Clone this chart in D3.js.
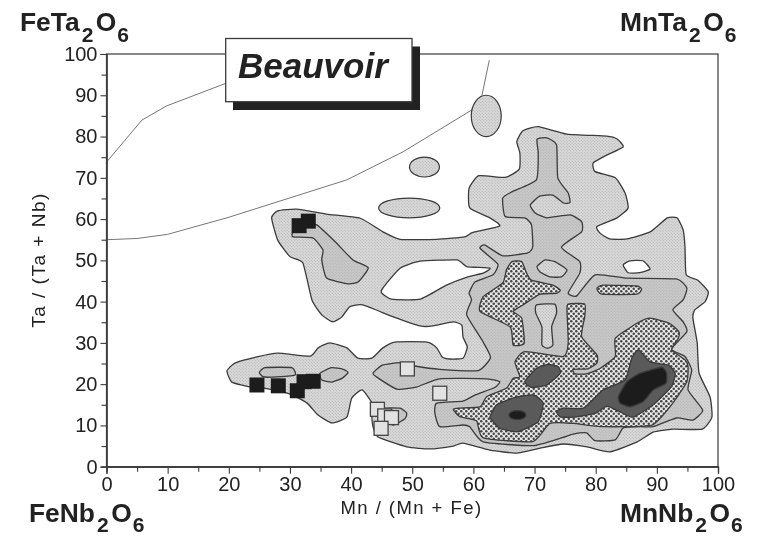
<!DOCTYPE html>
<html><head><meta charset="utf-8">
<script src="https://cdn.jsdelivr.net/npm/d3@7/dist/d3.min.js"></script>
<style>html,body{margin:0;padding:0;background:#fff}svg{display:block}text{font-family:"Liberation Sans",Arial,sans-serif;fill:#222}</style>
</head><body><div id="c"></div>
<script>
const outerContour=[[27,60.3],[28,62],[31.1,62.4],[36,61.2],[41.5,60.2],[45.2,56.9],[48,55.1],[54,55.1],[58.6,55.7],[59.8,56.7],[64.3,58.3],[62.7,60.3],[59.4,62.7],[59.3,67.5],[60.9,70.5],[65.2,70.1],[67.5,72.1],[67.6,76],[67.1,78.8],[68.1,81.4],[70.6,82.4],[75.3,80.6],[81.8,80.1],[83.5,79.4],[84.5,77.5],[81.8,75.5],[79.6,73.6],[79.9,71.5],[83.2,70],[84.8,66.3],[85.3,62.7],[83.5,60.3],[80.2,58.2],[80.7,56.6],[82.3,55.2],[85.1,55.2],[88.9,56.9],[91.7,60.3],[93.3,60.3],[94.3,57.4],[94.6,53.3],[94.8,46.5],[96.7,45.2],[98.4,42.4],[97.9,40],[96.2,38],[95.9,36],[96.6,30],[96.9,22.7],[98.7,16.9],[99,12],[97.4,9.1],[92.6,9.1],[89.4,8.4],[86.8,6],[82.3,3.6],[78.6,4.8],[74.7,5.5],[70.9,4.5],[67.1,3.3],[62.7,4],[58.3,5.7],[56.7,5],[52.9,4.3],[49.1,4.8],[44.4,7.2],[43.6,9.6],[43.4,12],[43.4,15.4],[41.8,18.6],[40.1,16.6],[39.3,12],[36.9,10.6],[34.6,12.5],[32.8,15.4],[30,17.6],[25.6,19.1],[23.5,19.3],[20.5,20.5],[19.7,23.2],[21,25.1],[24.6,26.6],[28,27.5],[33.3,26.8],[34.6,28.8],[36.5,30],[39.3,28.8],[41.1,26.3],[43.4,26.3],[45.2,28.8],[47.2,30.2],[52.4,30.2],[54,28.8],[54.9,26.6],[56.2,26.1],[58.3,26.3],[59,29],[58.3,31.4],[58.1,34.3],[56.7,35.1],[53.4,34.1],[51.3,34.1],[46.9,36.3],[41.9,39.2],[39.8,38.8],[38.5,36.3],[37,35.1],[35.2,36.8],[33.6,40.4],[32.1,49.4],[30,50.9],[28,54.9]];
const holeMiddle=[[45.2,43.3],[48,48.1],[51.3,49.8],[57.3,50.1],[58.9,48.5],[62.7,48.1],[61.6,46.9],[59.1,46],[55.6,44],[51.3,40.6],[46.6,40.6],[45,42.1]];
const holeRight=[[84.5,48.9],[85.6,49.9],[87.7,49.9],[88.9,47.9],[87.2,47],[85.3,47]];
const midContour=[[70.4,79.3],[72,79.7],[73.6,78],[73.8,70],[75.5,66.3],[75.8,64],[74.7,63.9],[73,65.8],[70.9,65.6],[69.3,63.4],[70.1,61.5],[72,60.3],[75.8,61],[77.7,59.4],[77.7,56.9],[74.4,53.2],[77.4,49.7],[77.4,46.9],[75.5,42.1],[76.9,41.4],[79.9,46.5],[85.1,45.7],[93.2,45.5],[94.9,43.3],[94.3,40.4],[92.6,38],[94.3,35.1],[94.9,32.7],[92.4,28.5],[94.6,26.7],[95.7,23.4],[95.1,18.6],[97.5,13.7],[95.9,11.3],[93.2,11.8],[89.4,9.7],[87.2,9.7],[84.5,9.4],[83.2,6.5],[79.9,6.3],[78.5,8.2],[76.3,7.9],[74.4,7],[69.7,5.1],[61.6,6],[59.4,9.7],[58.3,10.1],[54.5,9.7],[53.7,13],[54,15.4],[58.3,15.9],[60.3,17.4],[63.5,19.2],[64.3,20.6],[62.2,21.3],[54.5,21.3],[50.7,19.3],[47.5,18.8],[44.2,21.7],[43.6,22.7],[45.1,24.6],[48,25.2],[50.4,24.4],[54.5,23.6],[60.8,23.3],[62.8,26.5],[61.4,30.7],[58.9,36.8],[59.7,40.4],[59.3,42.1],[60.3,44.8],[63.2,46.5],[64,49.1],[61.1,52.9],[61.9,53.7],[64.8,51.1],[68.9,51.8],[69.7,53.3],[69.5,58.6],[68.4,60.3],[65.2,60.6],[64.8,65.1],[66.3,66.6],[70.3,69.5],[70.6,76]];
const midIslands=[
 [[25,22.8],[25.9,24],[30.3,24],[30.8,22.2],[27,21.7],[25.6,21.8]],
 [[34.9,22.6],[36.8,24],[38.7,23.6],[39.5,22.8],[38.5,21.4],[36.8,20.5],[35.2,21]],
 [[44.4,13],[45.2,14.2],[48,14.2],[49.1,13],[48.8,11.6],[46.9,10.1],[45.1,11.3]],
 [[30.5,56.9],[30.5,55.7],[33.8,55.4],[35.4,52.5],[35.2,50.1],[36,45.7],[39.5,44.3],[41.2,44.8],[42.8,48.2],[40.3,50.1],[37.4,54.5],[34.4,58.6],[32.5,58.6]]
];
const lightIslands=[
 [[70.4,48.5],[71.7,50.1],[73.3,49.7],[75.3,47.7],[74.4,46],[72.5,46],[70.9,47.2]],
 [[70.3,39.2],[73.3,39.4],[73.6,37.2],[72.8,33.9],[73,29.5],[72.1,28.7],[71.2,29.5],[71.2,33.9],[70.2,37.2]]
];
const hatchAreas=[
 [[66.3,49.7],[67.9,49.7],[68.7,46.9],[69.5,45.2],[73,44],[74.2,42.8],[73.6,42],[70.9,41.8],[68.1,39.2],[66.5,37.6],[67.9,36],[68.3,29.9],[66.5,29.5],[66,33.9],[61.1,37.6],[61.6,41.2],[64.8,44.5],[65.4,47.7]],
 [[80.2,43.2],[81.2,44],[86.7,43.8],[87.5,43],[86.7,41.8],[81,41.8]],
 [[75.5,39.4],[78.2,39.4],[78.2,36.3],[77.7,31.5],[80.2,27.1],[80.2,25.1],[78.7,23.7],[76.3,23.6],[76.6,22.5],[78.5,22.5],[80.7,23.8],[83.2,26.7],[83.2,31.1],[86.7,34.7],[88.9,36],[92.1,34.7],[93.6,32.7],[93.5,31.1],[92.4,28.3],[94.6,25.9],[95.1,24.2],[94.9,20.6],[92.6,15.4],[89.2,10.1],[81.2,9.7],[76.3,10.5],[72.5,10.5],[69.7,6.1],[61.6,7],[60.5,11.1],[57.8,12.1],[56.7,13.9],[57.8,14.2],[61.1,14.5],[62.2,17],[65.4,19],[66.5,21.4],[67.6,21.8],[66.8,25.4],[68.4,27.9],[74.7,26.7],[75.5,29.9],[75.3,38]]
];
const darkAreas=[
 [[68.4,20.6],[70.3,23.8],[72.2,24.8],[73.9,24.2],[74.2,22.6],[72,19.8],[69.5,19.2]],
 [[62.7,12.1],[63.8,15],[66.8,16.8],[69.8,17.4],[71.4,15.4],[70.6,10.9],[67.3,8.5],[64.3,9.3],[63,11.3]],
 [[73.6,13.3],[74.7,14.2],[78,14.2],[81.2,18.6],[84.8,21],[85.9,26.3],[87,28.3],[88.9,25.4],[91.9,24.6],[93,22.6],[92.4,19.4],[89.4,15],[86.1,12],[84,13.3],[81.8,14.7],[79.9,12.9],[76.3,12],[74.2,12.1]]
];
const blackAreas=[
 [[83.7,17],[85.1,20.6],[87.2,22.6],[90.8,24.1],[91.6,22.6],[91.5,20.2],[89.4,18.6],[87.8,15.8],[85.6,14.5],[84,15.4]]
];
const blackOval=[[67.2,12.5,1.4,1.1]];
const lightOvals=[[62.1,85,2.45,5],[52,72.6,2.45,2.4],[49.5,62.7,5,2.4]];
const upperCurve=[[0,73.8],[5.8,84],[9.8,87.4],[19.7,93],[30,97]];
const lowerCurve=[[0,55],[5,55.3],[10,56.3],[15.3,58.5],[19.7,60.3],[39.3,69.5],[48.5,76.3],[59.7,86.4],[61.4,90],[62.6,98.5]];
const blackSquares=[[24.6,19.8],[28.1,19.6],[31.2,18.4],[32.3,20.6],[33.8,20.7],[31.5,58.4],[33,59.5]];
const openSquares=[[49.2,23.7],[44.3,13.9],[45.5,12.3],[46.6,11.9],[44.9,9.3],[54.5,17.8]];
const majorTicks=[0,10,20,30,40,50,60,70,80,90,100];
const minorTicks=[5,15,25,35,45,55,65,75,85,95];
const xTitle="Mn / (Mn + Fe)", yTitle="Ta / (Ta + Nb)", badge="Beauvoir";
const corners=[["FeTa","O"],["MnTa","O"],["FeNb","O"],["MnNb","O"]];

const W=759,H=536,ink="#3a3a3a";
const svg=d3.select("#c").append("svg").attr("width",W).attr("height",H).attr("viewBox",[0,0,W,H]);
const x=d3.scaleLinear().domain([0,100]).range([106.5,718]);
const y=d3.scaleLinear().domain([0,100]).range([466.7,54]);
const defs=svg.append("defs");
defs.append("filter").attr("id","soft").attr("x",0).attr("y",0).attr("width",1).attr("height",1)
  .append("feGaussianBlur").attr("stdDeviation",0.45);
function pat(id,size,bg,dots,r,fg){
  const p=defs.append("pattern").attr("id",id).attr("width",size).attr("height",size).attr("patternUnits","userSpaceOnUse");
  p.append("rect").attr("width",size).attr("height",size).attr("fill",bg);
  dots.forEach(d=>p.append("circle").attr("cx",d[0]*size).attr("cy",d[1]*size).attr("r",r).attr("fill",fg));
}
pat("lvl1",3,"#dadada",[[.25,.25],[.75,.75]],.55,"#aaaaaa");
pat("lvl2",3,"#c9c9c9",[[.25,.25],[.75,.75]],.55,"#adadad");
pat("lvl3",5,"#e6e6e6",[[.25,.25],[.75,.75]],1.25,"#444");

const root=svg.append("g").attr("filter","url(#soft)");
root.append("rect").attr("width",W).attr("height",H).attr("fill","#fff");
const pts=d=>d3.line().x(p=>x(p[0])).y(p=>y(p[1])).curve(d3.curveCardinalClosed.tension(0.5))(d);
const open=d3.line().x(p=>x(p[0])).y(p=>y(p[1]));
const sx=x(1)-x(0), sy=y(0)-y(1);

root.selectAll(".curve").data([upperCurve,lowerCurve]).join("path").attr("class","curve")
  .attr("d",open).attr("fill","none").attr("stroke","#666").attr("stroke-width",.9);

function ovals(data,fill){
  root.append("g").selectAll("ellipse").data(data).join("ellipse")
   .attr("cx",d=>x(d[0])).attr("cy",d=>y(d[1])).attr("rx",d=>d[2]*sx).attr("ry",d=>d[3]*sy)
   .attr("fill",fill).attr("stroke",ink).attr("stroke-width",1.2);
}
ovals(lightOvals,"url(#lvl1)");
root.append("path").attr("d",pts(outerContour)+pts(holeMiddle)+pts(holeRight)).attr("fill-rule","evenodd")
  .attr("fill","url(#lvl1)").attr("stroke",ink).attr("stroke-width",1.3).attr("stroke-linejoin","round");
function areas(data,fill){
  root.append("g").selectAll("path").data(data).join("path").attr("d",pts)
   .attr("fill",fill).attr("stroke",ink).attr("stroke-width",1.3).attr("stroke-linejoin","round");
}
areas([midContour],"url(#lvl2)");
areas(midIslands,"url(#lvl2)");
areas(lightIslands,"url(#lvl1)");
areas(hatchAreas,"url(#lvl3)");
areas(darkAreas,"#5a5a5a");
areas(blackAreas,"#1f1f1f");
ovals(blackOval,"#1f1f1f");

root.append("g").selectAll("rect").data(openSquares).join("rect")
  .attr("x",d=>x(d[0])-7).attr("y",d=>y(d[1])-7).attr("width",14).attr("height",14)
  .attr("fill","#e2e2e2").attr("stroke","#444").attr("stroke-width",1.3);
root.append("g").selectAll("rect").data(blackSquares).join("rect")
  .attr("x",d=>x(d[0])-7.5).attr("y",d=>y(d[1])-7.5).attr("width",15).attr("height",15)
  .attr("fill","#1c1c1c");

root.append("rect").attr("x",x(0)).attr("y",y(100)).attr("width",x(100)-x(0)).attr("height",y(0)-y(100))
  .attr("fill","none").attr("stroke",ink).attr("stroke-width",1.2);
function style(g){g.selectAll("path").attr("stroke",ink).attr("stroke-width",1.2);
  g.selectAll("line").attr("stroke",ink).attr("stroke-width",1.1);
  g.selectAll("text").attr("font-size",20).attr("fill","#2a2a2a").attr("font-family",'"Liberation Sans"');}
root.append("g").attr("transform",`translate(0,${y(0)})`).call(d3.axisBottom(x).tickValues(majorTicks).tickSize(7).tickPadding(3)).call(style);
root.append("g").attr("transform",`translate(0,${y(0)})`).call(d3.axisBottom(x).tickValues(minorTicks).tickSize(5).tickFormat("")).call(style);
root.append("g").attr("transform",`translate(${x(0)},0)`).call(d3.axisLeft(y).tickValues(majorTicks).tickSize(6).tickPadding(3)).call(style);
root.append("g").attr("transform",`translate(${x(0)},0)`).call(d3.axisLeft(y).tickValues(minorTicks).tickSize(5).tickFormat("")).call(style);

root.append("text").attr("x",411.5).attr("y",514).attr("text-anchor","middle").attr("font-size",18.5).attr("letter-spacing",1.45).text(xTitle);
root.append("text").attr("transform","translate(45,260) rotate(-90)").attr("text-anchor","middle").attr("font-size",19).attr("letter-spacing",1.5).text(yTitle);

root.append("rect").attr("x",233).attr("y",46.5).attr("width",187).attr("height",63.5).attr("fill","#222");
root.append("rect").attr("x",225.7).attr("y",38.5).attr("width",186.3).attr("height",63.2).attr("fill","#fff").attr("stroke",ink).attr("stroke-width",1.3);
root.append("text").attr("x",238).attr("y",78.3).attr("font-size",35).attr("font-weight","bold").attr("font-style","italic").text(badge);

const cornerPos=[[20,30.7,10.8],[620,31,10.8],[29,522,9.5],[620,522,9.5]];
corners.forEach((c,i)=>{
  const d=cornerPos[i][2];
  const t=root.append("text").attr("x",cornerPos[i][0]).attr("y",cornerPos[i][1]).attr("font-size",26.4).attr("font-weight","bold").attr("fill","#222");
  t.append("tspan").text(c[0]);
  t.append("tspan").attr("dy",d).attr("font-size",21).attr("dx",2).text("2");
  t.append("tspan").attr("dy",-d).attr("dx",2.5).text(c[1]);
  t.append("tspan").attr("dy",d).attr("dx",1).attr("font-size",21).text("6");
});
</script></body></html>
